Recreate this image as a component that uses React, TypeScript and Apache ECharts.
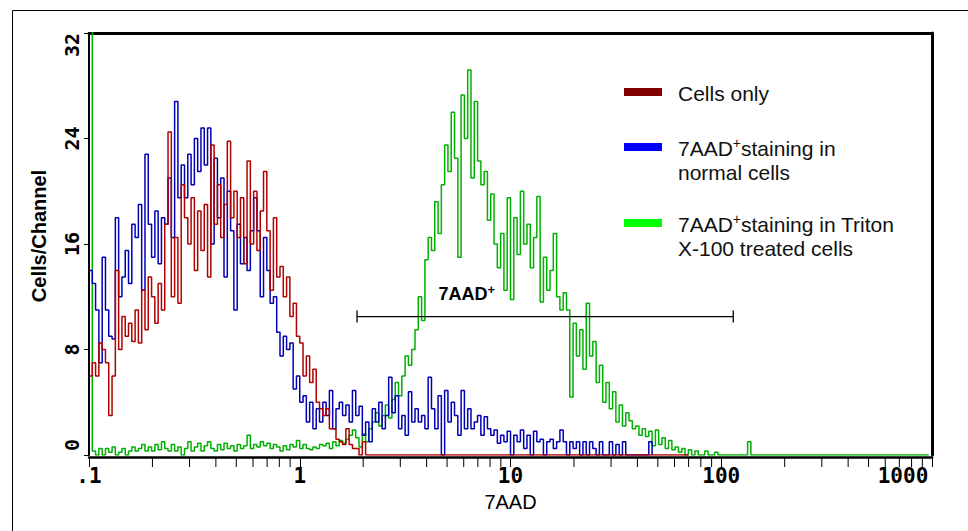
import React, { useEffect, useRef } from "react";
import * as echarts from "echarts";

// Instrument channel scale: 1024 channels over 4 decades starting at 0.1; one plotted bin = 4 channels
const CHANNEL_STEP = 4;
const CHANNELS_PER_DECADE = 256;
const FIRST_CHANNEL_VALUE = 0.1;

const seriesNames = [
  "Cells only",
  "7AAD+ staining in normal cells",
  "7AAD+ staining in Triton X-100 treated cells",
];
const lineColors = ["#b00000", "#0000b4", "#00b000"];
const swatchColors = ["#800000", "#0000ff", "#00ff00"];

// Counts per bin (Cells/Channel)
const cellsOnly = [
  6, 7, 6, 8.5, 8, 7, 3, 6, 14, 8,
  10.5, 9, 10, 8.6, 11, 8.5, 12.5, 9.5, 13.5, 12,
  10, 13, 11, 17.5, 24.5, 12, 16.5, 11.5, 20.5, 18,
  16, 19.5, 14, 18.5, 15.5, 19, 13.5, 23.5, 17.5, 20.5,
  16.5, 19, 23.8, 18, 20, 16.5, 19.5, 14.5, 22.3, 16,
  20, 15.5, 18.5, 21.5, 17, 12.5, 18, 13.5, 14.3, 12,
  13.5, 10.5, 11.5, 9, 8.5, 6, 7.5, 5.5, 6.5, 4,
  3.5, 3, 3.5, 2, 2, 1.2, 1, 0.8, 2, 0.8,
  0.5, 0.5, 0, 1, 0, 0, 0, 0, 0, 0,
  0, 0, 0, 0, 0, 0, 0, 0, 0, 0,
  0, 0, 0, 0, 0, 0, 0, 0, 0, 0,
  0, 0, 0, 0, 0, 0, 0, 0, 0, 0,
  0, 0, 0, 0, 0, 0, 0, 0, 0, 0,
  0, 0, 0, 0, 0, 0, 0, 0, 0, 0,
  0, 0, 0, 0, 0, 0, 0, 0, 0, 0,
  0, 0, 0, 0, 0, 0, 0, 0, 0, 0,
  0, 0, 0, 0, 0, 0, 0, 0, 0, 0,
  0, 0, 0, 0, 0, 0, 0, 0, 0, 0,
  0, 0, 0,
];

const normalCells = [
  14, 13, 11, 7, 15, 11, 9, 8.8, 18, 12,
  13.5, 15.5, 13, 17.5, 16.5, 19, 12.5, 22.8, 17.5, 15,
  18.5, 14.5, 18, 17.5, 21, 16.5, 26.8, 19.5, 22, 19.5,
  22.8, 20.5, 24, 21.5, 24.8, 22, 24.8, 16, 22.5, 18,
  21, 13.5, 20, 17, 11, 17.5, 14.5, 16.5, 14, 17,
  19.5, 17, 12, 16.5, 14, 11.5, 12, 9.3, 7.5, 9,
  8, 8.5, 5, 6, 4, 4.5, 2.5, 4, 2, 3.5,
  2.5, 4, 3, 4.9, 2, 3.5, 4, 3, 3.8, 2.5,
  4.9, 3, 3.7, 1.5, 2.5, 1, 3.5, 2.5, 4, 2,
  3, 5.9, 3.2, 4.5, 2, 3, 1.5, 4.8, 2.5, 3.5,
  2.5, 3, 2, 5.9, 3.5, 2, 4.5, 0, 4.9, 2.5,
  4, 3, 1.5, 4.9, 2, 3.5, 2, 2.5, 3, 1.5,
  2.9, 2, 1.5, 1.9, 0.9, 1.5, 1, 1.8, 0, 1.5,
  1, 1.9, 0.5, 1.5, 0, 1.8, 1, 1.2, 0, 1,
  1.2, 0.5, 1, 1.9, 1, 0, 1, 0.5, 1, 0,
  1, 0, 1, 0.5, 0, 1, 0, 0, 1, 0,
  0.8, 0, 1, 0, 0, 0, 0, 0, 0, 0,
  1, 0,
];

const tritonCells = [
  40, 0.3, 0, 0.5, 0, 0.5, 0.2, 0.6, 0, 0.2,
  0.5, 0, 0.3, 0.6, 0.3, 0.5, 0.8, 0.3, 0.6, 0.3,
  0.8, 0.4, 1, 0.5, 0.3, 0.8, 0.3, 0.6, 0, 0.5,
  1, 0.3, 0.6, 0.9, 0.3, 0.7, 1, 0.5, 0.3, 0.8,
  0.4, 0.9, 0.5, 0.7, 0.3, 0.8, 0.5, 0.7, 1.5, 0.5,
  0.8, 0.6, 1, 0.7, 0.9, 0.5, 0.8, 0.6, 0.3, 0.7,
  0.4, 0.8, 0.6, 1.1, 0.5, 0.8, 0.5, 0.4, 0.6, 0.5,
  0.8, 0.7, 0.9, 0.5, 1, 0.7, 1.1, 0.9, 1.2, 1.5,
  1.9, 1.3, 0.6, 1.6, 1, 2, 2.5, 3.2, 2.2, 3,
  3.8, 2.8, 4.2, 5.5, 4.5, 6, 7.5, 6.8, 8, 9.5,
  12, 10.2, 14.8, 16.5, 15.5, 19.2, 16.8, 20.5, 23.5, 21.5,
  26, 22.5, 15, 27.3, 24, 29.2, 21, 26.8, 22.3, 20.5,
  21.5, 17.8, 19.8, 16, 14.2, 16.8, 12.5, 19.5, 11.8, 18,
  15.2, 20, 16, 17.5, 14.2, 16.5, 19.6, 11.6, 15, 12.5,
  14, 16.8, 12, 11, 12.3, 11, 4.4, 10, 7.5, 9.5,
  6.5, 11.5, 7.5, 8.6, 5.5, 6.8, 4, 5.5, 3.5, 4.8,
  2.5, 3.8, 2.2, 3.2, 2.6, 2, 2.2, 1.5, 2, 1.4,
  1.8, 0.7, 1.9, 0.8, 1.3, 0.5, 1.1, 0.4, 0.6, 0.2,
  0.5, 0, 0.4, 0, 0.3, 0, 0, 0.3, 0, 0,
  0.2, 0, 0, 0, 0, 0, 0, 0, 0, 0,
  1, 0, 0, 0, 0, 0, 0, 0, 0, 0,
  0, 0, 0, 0, 0, 0, 0, 0, 0, 0,
  0, 0, 0, 0, 0, 0, 0, 0, 0, 0,
  0, 0, 0, 0, 0, 0, 0, 0, 0, 0,
  0, 0, 0, 0, 0, 0, 0, 0, 0, 0,
  0, 0, 0, 0, 0, 0,
];

// Axes
const xTickLabels = [".1", "1", "10", "100", "1000"];
const xMinorTicks = [
  0.2, 0.3, 0.4, 0.5, 0.6, 0.7, 0.8, 0.9,
  2, 3, 4, 5, 6, 7, 8, 9,
  20, 30, 40, 50, 60, 70, 80, 90,
  200, 300, 400, 500, 600, 700, 800, 900,
];
const xRange = [0.1, 1000];
const yRange = [0, 32];
const yInterval = 8;
const xTitle = "7AAD";
const yTitle = "Cells/Channel";

// Gate marker
const gateRange = [1.87, 114];
const gateLevel = 10.5;
const gateLabelX = 6.2;
const gateLabel = ["7AAD", "+"];

// Legend text lines: [main, superscript, rest], second line
const legendLines = [
  { a: "Cells only", sup: "", b: "", second: "" },
  { a: "7AAD", sup: "+", b: "staining in", second: "normal cells" },
  { a: "7AAD", sup: "+", b: "staining in Triton", second: "X-100 treated cells" },
];

const SANS = '"Liberation Sans", Arial, sans-serif';
const MONO = '"DejaVu Sans Mono", "Liberation Mono", monospace';

const toPoints = (counts: number[]) =>
  counts.map((c, i) => [
    FIRST_CHANNEL_VALUE * Math.pow(10, (i * CHANNEL_STEP) / CHANNELS_PER_DECADE),
    c,
  ]);

export default function App() {
  const ref = useRef<HTMLDivElement>(null);

  useEffect(() => {
    if (!ref.current) return;
    const chart = echarts.init(ref.current, undefined, { renderer: "svg" });

    const seriesData = [cellsOnly, normalCells, tritonCells];
    const drawOrder = [2, 1, 0];

    const lineSeries = drawOrder.map((k) => ({
      type: "line",
      name: seriesNames[k],
      data: toPoints(seriesData[k]),
      step: "end",
      symbol: "none",
      showSymbol: false,
      clip: true,
      xAxisIndex: 0,
      yAxisIndex: 0,
      lineStyle: { color: lineColors[k], width: 1.5 },
      itemStyle: { color: lineColors[k] },
      z: 2,
    }));

    const legendGraphics: any[] = [];
    const swatchCenters = [92, 147, 223];
    legendLines.forEach((l, k) => {
      const cy = swatchCenters[k];
      legendGraphics.push({
        type: "rect",
        left: 624,
        top: cy - 4,
        shape: { width: 38, height: 8 },
        style: { fill: swatchColors[k] },
      });
      const text = l.sup ? `{n|${l.a}}{s|${l.sup}}{n|${l.b}}` : `{n|${l.a}}`;
      legendGraphics.push({
        type: "text",
        x: 678,
        y: cy + 1,
        style: {
          text,
          align: "left",
          verticalAlign: "middle",
          rich: {
            n: { fontFamily: SANS, fontSize: 21, fill: "#111", color: "#111" },
            s: { fontFamily: SANS, fontSize: 14, fill: "#111", color: "#111", padding: [0, 0, 10, 0] },
          },
        },
      });
      if (l.second) {
        legendGraphics.push({
          type: "text",
          x: 678,
          y: cy + 25,
          style: {
            text: l.second,
            fontFamily: SANS,
            fontSize: 21,
            fill: "#111",
            align: "left",
            verticalAlign: "middle",
          },
        });
      }
    });

    const option: any = {
      animation: false,
      backgroundColor: "#ffffff",
      grid: { left: 89, right: 36, top: 33, bottom: 76, containLabel: false },
      xAxis: [
        {
          type: "log",
          logBase: 10,
          min: xRange[0],
          max: xRange[1],
          offset: 2,
          name: xTitle,
          nameLocation: "middle",
          nameGap: 35,
          nameTextStyle: { fontFamily: SANS, fontSize: 20, color: "#000" },
          axisLine: { show: true, onZero: false, lineStyle: { color: "#000", width: 2.5 } },
          axisTick: { show: true, length: 10, lineStyle: { color: "#000", width: 1 } },
          splitLine: { show: false },
          minorTick: { show: false },
          axisLabel: {
            margin: 8,
            color: "#000",
            fontFamily: MONO,
            fontWeight: "bold",
            fontSize: 21,
            formatter: (_v: number, i: number) =>
              i === xTickLabels.length - 1 ? `{last|${xTickLabels[i]}}` : xTickLabels[i] ?? "",
            rich: {
              last: {
                fontFamily: MONO,
                fontWeight: "bold",
                fontSize: 21,
                color: "#000",
                padding: [0, 58, 0, 0],
              },
            },
          },
        },
        {
          type: "value",
          position: "top",
          min: 0,
          max: 1,
          axisLine: { show: true, onZero: false, lineStyle: { color: "#000", width: 3 } },
          axisTick: { show: false },
          axisLabel: { show: false },
          splitLine: { show: false },
        },
      ],
      yAxis: [
        {
          type: "value",
          min: yRange[0],
          max: yRange[1],
          interval: yInterval,
          name: yTitle,
          nameLocation: "middle",
          nameRotate: 90,
          nameGap: 40,
          nameTextStyle: {
            fontFamily: SANS,
            fontSize: 20,
            fontWeight: "bold",
            color: "#000",
            padding: [0, 0, 0, 16],
          },
          axisLine: { show: true, onZero: false, lineStyle: { color: "#000", width: 2 } },
          axisTick: { show: true, length: 5, lineStyle: { color: "#000", width: 1 } },
          splitLine: { show: false },
          axisLabel: {
            rotate: 90,
            margin: 7,
            color: "#000",
            fontFamily: MONO,
            fontWeight: "bold",
            fontSize: 20,
            formatter: (v: number) =>
              v === yRange[1] ? `{top|${v}}` : v === yRange[0] ? `{bot|${v}}` : `${v}`,
            rich: {
              top: { fontFamily: MONO, fontWeight: "bold", fontSize: 20, color: "#000", padding: [0, 24, 0, 0] },
              bot: { fontFamily: MONO, fontWeight: "bold", fontSize: 20, color: "#000", padding: [0, 0, 0, 20] },
            },
          },
        },
        {
          type: "value",
          position: "right",
          min: 0,
          max: 1,
          axisLine: { show: true, onZero: false, lineStyle: { color: "#000", width: 3 } },
          axisTick: { show: false },
          axisLabel: { show: false },
          splitLine: { show: false },
        },
      ],
      graphic: [
        {
          type: "rect",
          left: 10,
          top: 8,
          shape: { width: 1000, height: 600 },
          style: { fill: "none", stroke: "#000", lineWidth: 1 },
          silent: true,
          z: -10,
        },
        ...legendGraphics,
      ],
      series: [
        ...lineSeries,
        {
          type: "custom",
          name: "minor ticks",
          silent: true,
          clip: false,
          xAxisIndex: 0,
          yAxisIndex: 0,
          data: xMinorTicks.map((v) => [v, yRange[0]]),
          encode: { x: 0, y: 1 },
          renderItem: (_p: any, api: any) => {
            const p = api.coord([api.value(0), api.value(1)]);
            return {
              type: "line",
              shape: { x1: p[0], y1: p[1] + 3, x2: p[0], y2: p[1] + 12 },
              style: { stroke: "#000", lineWidth: 1 },
            };
          },
          z: 5,
        },
        {
          type: "custom",
          name: "gate",
          silent: true,
          clip: false,
          xAxisIndex: 0,
          yAxisIndex: 0,
          data: [[gateRange[0], gateRange[1], gateLevel, gateLabelX]],
          encode: { x: [0, 1, 3], y: 2 },
          renderItem: (_p: any, api: any) => {
            const a = api.coord([api.value(0), api.value(2)]);
            const b = api.coord([api.value(1), api.value(2)]);
            const l = api.coord([api.value(3), api.value(2)]);
            const st = { stroke: "#000", lineWidth: 1.3 };
            return {
              type: "group",
              children: [
                { type: "line", shape: { x1: a[0], y1: a[1], x2: b[0], y2: b[1] }, style: st },
                { type: "line", shape: { x1: a[0], y1: a[1] - 6, x2: a[0], y2: a[1] + 6 }, style: st },
                { type: "line", shape: { x1: b[0], y1: b[1] - 6, x2: b[0], y2: b[1] + 6 }, style: st },
                {
                  type: "text",
                  x: l[0],
                  y: l[1] - 23,
                  style: {
                    text: `{a|${gateLabel[0]}}{s|${gateLabel[1]}}`,
                    align: "center",
                    verticalAlign: "middle",
                    rich: {
                      a: { fontFamily: SANS, fontSize: 18, fontWeight: "bold", fill: "#000", color: "#000" },
                      s: { fontFamily: SANS, fontSize: 13, fontWeight: "bold", fill: "#000", color: "#000", padding: [0, 0, 9, 0] },
                    },
                  },
                },
              ],
            };
          },
          z: 6,
        },
      ],
    };

    chart.setOption(option);
    return () => chart.dispose();
  }, []);

  return (
    <div
      ref={ref}
      style={{ position: "fixed", left: 0, top: 0, width: 968, height: 531, background: "#fff" }}
    />
  );
}
